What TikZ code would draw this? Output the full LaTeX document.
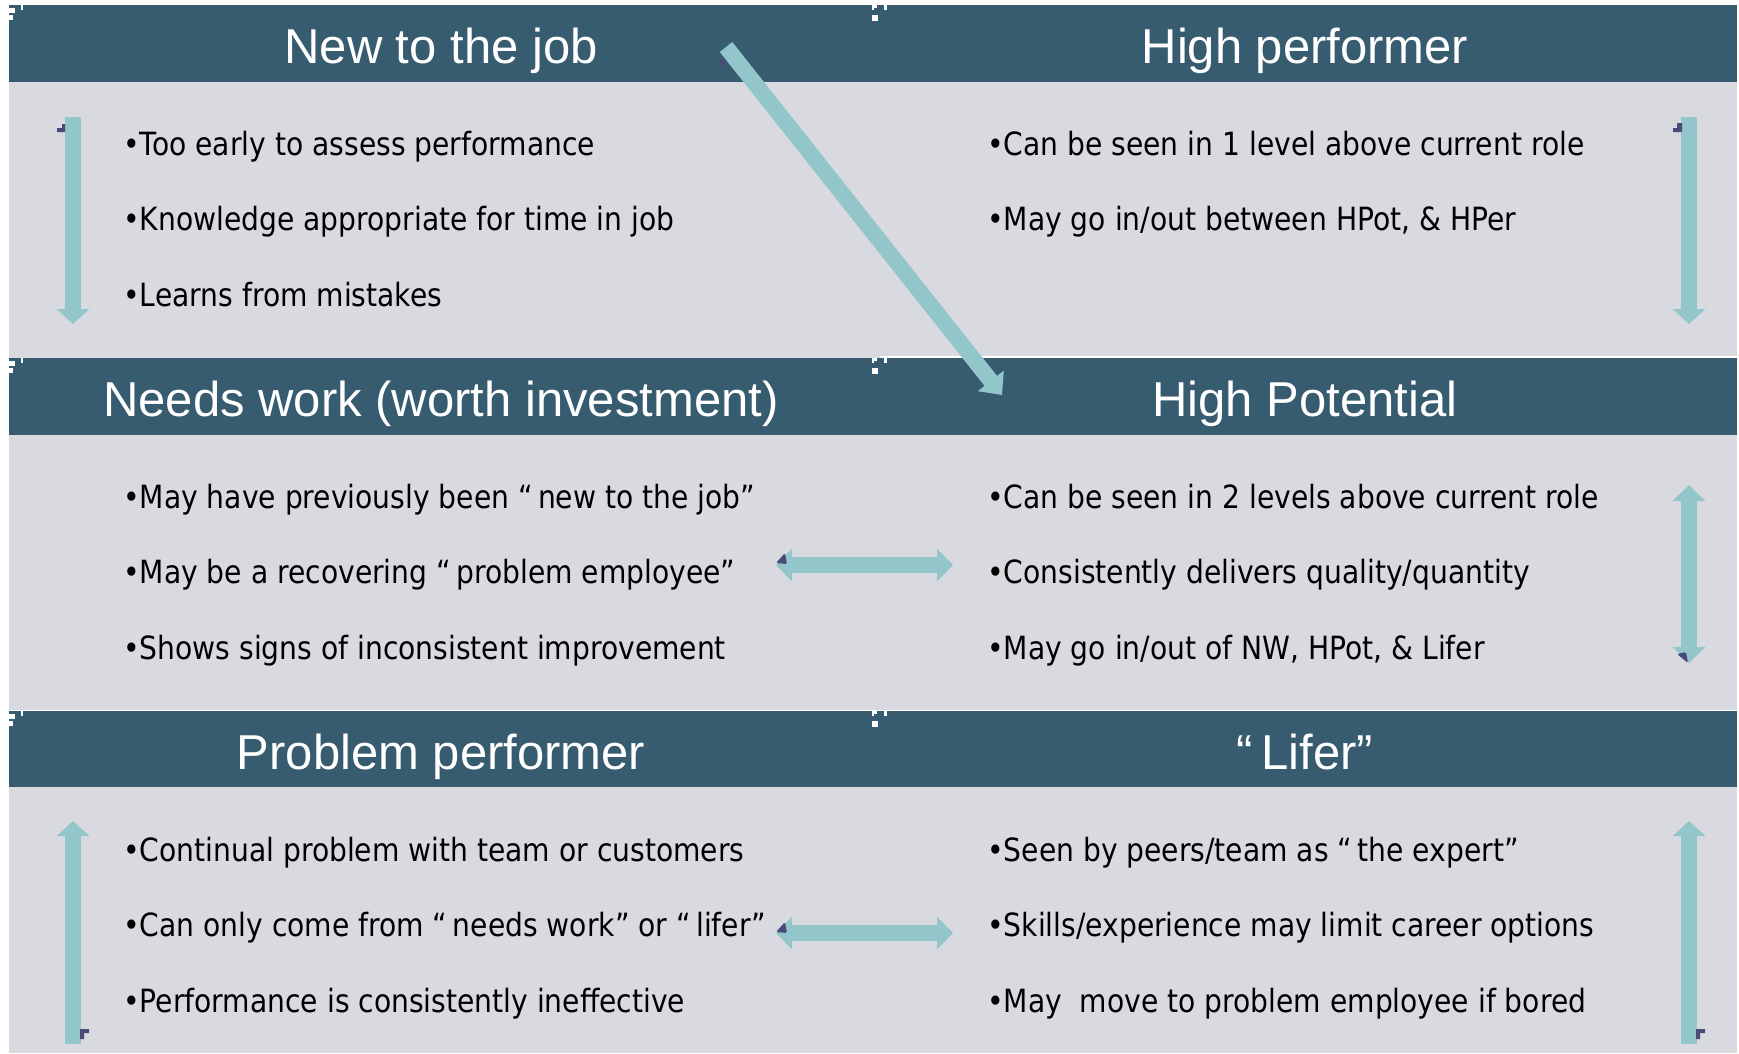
\documentclass[tikz,border=0pt]{standalone}
\usepackage{fontspec}
\setmainfont{Liberation Sans}
\newfontfamily\bodyfont{DejaVu Sans}[FakeStretch=0.88]
\usetikzlibrary{arrows.meta}

\definecolor{barblue}{HTML}{375B6F}
\definecolor{panelgray}{HTML}{D9DADF}
\definecolor{arrowteal}{HTML}{93C6CA}
\definecolor{markpurple}{HTML}{4A4A7A}

\tikzset{
  bar/.style={fill=barblue},
  panel/.style={fill=panelgray},
  title/.style={text=white, inner sep=0pt, anchor=base,
    font=\fontsize{49}{58}\selectfont},
  item/.style={text=black, inner sep=0pt, anchor=base west,
    font=\bodyfont\fontsize{32}{38}\selectfont},
  flow/.style={draw=arrowteal, line width=16pt},
  downflow/.style={flow, -{Triangle[width=32pt,length=15pt]}},
  twoway/.style={flow, {Triangle[width=32pt,length=16pt]}-{Triangle[width=32pt,length=16pt]}},
  slant/.style={flow, -{Triangle[width=32pt,length=18pt]}},
  dotmark/.style={fill=markpurple},
  handle/.style={fill=white}
}

\begin{document}
\begin{tikzpicture}[x=1pt,y=-1pt]
\useasboundingbox (0,0) rectangle (1739,1053);
\fill[white] (0,0) rectangle (1739,1053);

% three rows of panels: header bar above a grey body
\foreach \r in {0,1,2} {
  \pgfmathsetmacro{\oy}{353*\r}
  \fill[bar] (9,5+\oy) rectangle (1737,82+\oy);
}
\fill[panel] (9,82) rectangle (1737,358);
\fill[panel] (9,435) rectangle (1737,710);
\fill[panel] (9,787) rectangle (1737,1053);
\fill[white] (880,355.5) rectangle (1737,357.5);

% small selection handles on the panel corners
\foreach \r in {0,1,2} {
  \pgfmathsetmacro{\oy}{353*\r}
  \fill[handle] (9,8+\oy) rectangle (15,13+\oy);
  \fill[handle] (9,15+\oy) rectangle (13,20+\oy);
  \fill[handle] (21,5+\oy) rectangle (23,10+\oy);
  \fill[handle] (872,5+\oy) rectangle (877,8+\oy);
  \fill[handle] (872,5+\oy) rectangle (874,10+\oy);
  \fill[handle] (884,5+\oy) rectangle (887,10+\oy);
  \fill[handle] (872,15+\oy) rectangle (878,21+\oy);
}

% ---- headers
\node[title] (t11) at (441,63.3) {New to the job};
\node[title] (t12) at (1305,63.3) {High performer};
\node[title] (t21) at (441,416.3) {Needs work (worth investment)};
\node[title] (t22) at (1305,416.3) {High Potential};
\node[title] (t31) at (441,769.3) {Problem performer};
\node[title] (t32) at (1305,769.3) {“\,Lifer”};

% ---- row 1
\node[item] (a1) at (123,155) {•Too early to assess performance};
\node[item] (a2) at (123,230.5) {•Knowledge appropriate for time in job};
\node[item] (a3) at (123,306) {•Learns from mistakes};
\node[item] (b1) at (987,155) {•Can be seen in 1 level above current role};
\node[item] (b2) at (987,230.5) {•May go in/out between HPot, \& HPer};

% ---- row 2
\node[item] (c1) at (123,508) {•May have previously been “\,new to the job”};
\node[item] (c2) at (123,583.5) {•May be a recovering “\,problem employee”};
\node[item] (c3) at (123,659) {•Shows signs of inconsistent improvement};
\node[item] (d1) at (987,508) {•Can be seen in 2 levels above current role};
\node[item] (d2) at (987,583.5) {•Consistently delivers quality/quantity};
\node[item] (d3) at (987,659) {•May go in/out of NW, HPot, \& Lifer};

% ---- row 3
\node[item] (e1) at (123,861) {•Continual problem with team or customers};
\node[item] (e2) at (123,936.5) {•Can only come from “\,needs work” or “\,lifer”};
\node[item] (e3) at (123,1012) {•Performance is consistently ineffective};
\node[item] (f1) at (987,861) {•Seen by peers/team as “\,the expert”};
\node[item] (f2) at (987,936.5) {•Skills/experience may limit career options};
\node[item] (f3) at (987,1012) {•May \ move to problem employee if bored};

% ---- arrow end points
\coordinate (L1top) at (73,117);   \coordinate (L1bot) at (73,324);
\coordinate (R1top) at (1689,117); \coordinate (R1bot) at (1689,324);
\coordinate (R2top) at (1689,485); \coordinate (R2bot) at (1689,663);
\coordinate (L3top) at (73,821);   \coordinate (L3bot) at (73,1044);
\coordinate (R3top) at (1689,821); \coordinate (R3bot) at (1689,1044);
\coordinate (H2l) at (776,565);    \coordinate (H2r) at (953,565);
\coordinate (H3l) at (776,933);    \coordinate (H3r) at (953,933);
\coordinate (Dstart) at (726,47);  \coordinate (Dend) at (1002,395);

% ---- arrows
\draw[downflow] (L1top) -- (L1bot);
\draw[downflow] (R1top) -- (R1bot);
\draw[twoway] (R2top) -- (R2bot);
\draw[downflow] (L3bot) -- (L3top);
\draw[downflow] (R3bot) -- (R3top);
\draw[twoway] (H2l) -- (H2r);
\draw[twoway] (H3l) -- (H3r);
\draw[slant] (Dstart) -- (Dend);

% ---- small dark marks on the arrows
\fill[dotmark] (57,128) -- (62,128) -- (62,124) -- (65,124) -- (65,132) -- (57,132) -- cycle;
\fill[dotmark] (1673,128) -- (1677,128) -- (1677,123) -- (1682,123) -- (1682,132) -- (1673,132) -- cycle;
\fill[dotmark, rounded corners=1.5pt] (776,563) -- (785,553) -- (787,564) -- cycle;
\fill[dotmark, rounded corners=1.5pt] (776,932) -- (785,922) -- (787,933) -- cycle;
\fill[dotmark, rounded corners=1.5pt] (1677,654) -- (1686,652) -- (1688,663) -- cycle;
\fill[dotmark] (80,1029) -- (89,1029) -- (89,1033) -- (84,1033) -- (84,1039) -- (80,1039) -- cycle;
\fill[dotmark] (1696,1029) -- (1705,1029) -- (1705,1033) -- (1700,1033) -- (1700,1039) -- (1696,1039) -- cycle;
\fill[dotmark, rounded corners=1pt] (719,58) -- (726,60) -- (722,67) -- cycle;
\end{tikzpicture}
\end{document}
